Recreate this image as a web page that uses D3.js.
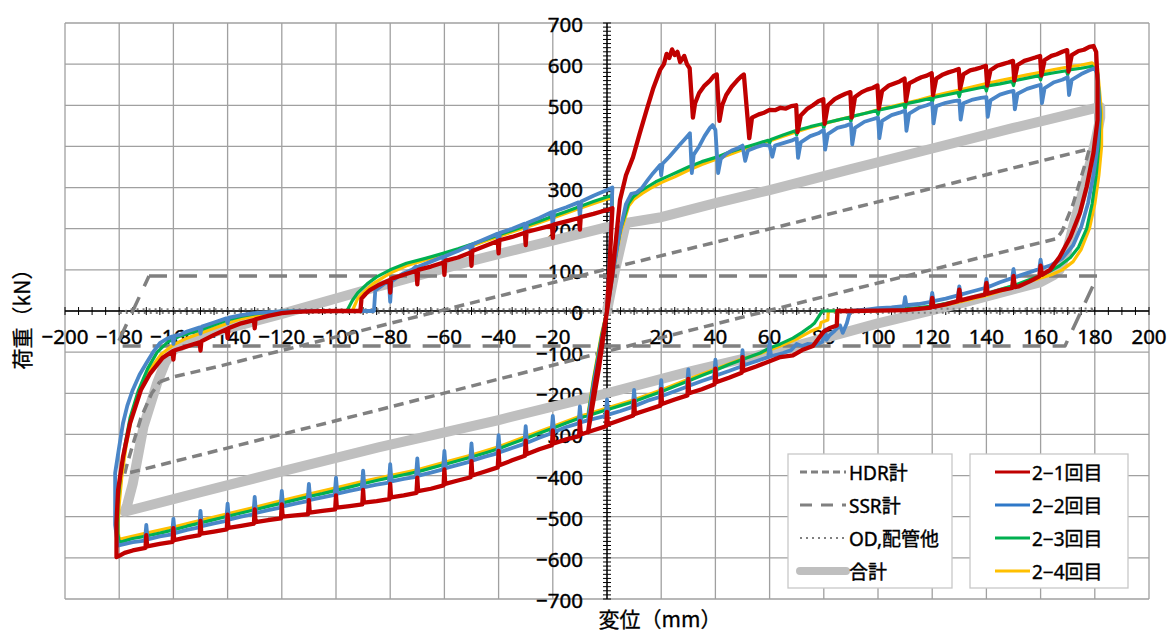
<!DOCTYPE html>
<html>
<head>
<meta charset="utf-8">
<script src="https://cdn.jsdelivr.net/npm/d3@7/dist/d3.min.js"></script>
<style>
  html, body { margin: 0; padding: 0; background: #fff; }
  svg { display: block; }
  .tick-label { font-family: "Noto Sans", "Noto Sans CJK JP", sans-serif; font-size: 20.5px; fill: #000; stroke: #000; stroke-width: 0.45px; }
  .title { font-family: "Noto Sans CJK JP", sans-serif; font-size: 21px; fill: #000; stroke: #000; stroke-width: 0.3px; }
  .legend-text { font-family: "Noto Sans", "Noto Sans CJK JP", sans-serif; font-size: 19px; fill: #000; stroke: #000; stroke-width: 0.4px; }
</style>
</head>
<body>
<script>
// axis ticks
const xTicks = d3.range(-200, 201, 20);
const yTicks = d3.range(-700, 701, 100);

// calculated loops
const hdr = [[-165,-172],[-160,-160],[-143,-134],[0,102],[64,206],[178,394],[177,370],[172,260],[168,195],[166,176],
  [100,68],[0,-98],[-84,-240],[-178,-396],[-177,-370],[-172,-260],[-168,-200],[-165,-172]];
const ssr = [[-169,85],[181,85],[169,-85],[-181,-85],[-169,85]];
const od = [[-180,-5],[-176,4],[0,4],[180,6],[176,-4],[0,-4],[-180,-5]];
const total = [[0,0],[3,100],[7,214],[20,228],[40,262],[60,294],[90,345],[120,395],[150,445],[182,496],
  [182,470],[180.5,420],[179,380],[176,300],[172,205],[169.5,140],[167,100],[165,88],[160,70],[130,18],[100,-30],
  [64,-95],[30,-148],[0,-200],[-40,-265],[-84,-331],[-120,-390],[-150,-440],[-178,-488],[-177,-470],[-175,-420],
  [-171,-280],[-166,-175],[-163,-125],[-160,-95],[-150,-60],[-119,-5],[-89,51],[-50,122],[0,204]];

// measured loops
const run1 = [[0,0],[2,90],[4.8,270],[7,330],[9.6,374],[12,430],[14.6,488],[17,540],[19.6,586],[21,600],[22,625],[23,615],
  [24,636],[25,622],[26,630],[27,605],[28.5,620],[29.5,600],[30.5,590],[31.7,470],[32.5,505],[34,530],[36,548],[38,560],
  [39.5,572],[40.5,575],[41.5,462],[42.5,500],[44,525],[46,545],[48,560],[49.5,570],[50.5,575],[52.5,420],[53.5,470],
  [56,478],[58,482],[60,489],[62,488],[64,494],[66,492],[68,498],[69.8,500],[70.3,435],[71.5,475],[74,492],[76,500],
  [78,510],[79.8,515],[80.3,455],[81.5,500],[84,515],[86,522],[88,528],[89.8,532],[90.3,470],[91.5,520],[94,532],
  [96,538],[98,542],[99.8,548],[100.3,492],[101.5,535],[104,548],[106,553],[108,558],[109.8,565],[110.3,510],[111.5,553],
  [114,562],[116,568],[118,572],[119.8,578],[120.3,525],[121.5,565],[124,575],[126,580],[128,584],[129.8,588],[130.3,540],
  [131.5,575],[134,585],[136,588],[138,592],[139.8,596],[140.3,548],[141.5,585],[144,596],[146,600],[148,604],[149.8,608],
  [150.3,560],[151.5,598],[154,608],[156,612],[158,616],[159.8,620],[160.3,572],[161.5,610],[164,620],[166,624],[168,630],
  [169.8,634],[170.3,582],[171.5,622],[174,632],[176,635],[178,642],[179.5,644],[180.5,630],
  [181,560],[181,464],[179.5,384],[177,302],[174.5,238],[171,180],[167,131],[163.5,100],[160.5,88],[160,110],[159.5,84],
  [156,72],[152,60],[150.5,58],[150,85],[149.5,56],[145,50],[140.5,42],[140,68],[139.5,40],[135,33],[130.5,26],[130,52],
  [129.5,24],[125,16],[120.5,10],[120,32],[119.5,8],[115,5],[110,2],[100,1],[90,0],[85,0],[84.8,-35],[82,-42],[80,-50],
  [78.6,-62],[76,-85],[72,-95],[68.6,-108],[64,-112],[60,-122],
  [55,-135],[50.3,-146],[50,-112],[49.7,-150],[45,-162],[40.3,-173],[40,-140],[39.7,-178],[35,-190],[30.3,-200],[30,-165],
  [29.7,-205],[25,-215],[20.3,-226],[20,-190],[19.7,-230],[15,-240],[10.3,-250],[10,-218],[9.7,-254],[5,-265],[0.3,-276],
  [0,-245],[-0.3,-280],[-5,-290],[-9.7,-300],[-10,-268],[-10.3,-304],[-15,-312],[-19.7,-322],[-20,-290],[-20.3,-326],
  [-25,-336],[-29.7,-348],[-30,-315],[-30.3,-352],[-35,-363],[-39.7,-375],[-40,-340],[-40.3,-380],[-45,-390],[-49.7,-400],
  [-50,-365],[-50.3,-404],[-55,-412],[-59.7,-420],[-60,-385],[-60.3,-424],[-65,-432],[-69.7,-438],[-70,-405],[-70.3,-442],
  [-75,-448],[-79.7,-453],[-80,-420],[-80.3,-457],[-85,-462],[-89.7,-466],[-90,-435],[-90.3,-470],[-95,-474],[-99.7,-478],
  [-100,-448],[-100.3,-482],[-105,-486],[-109.7,-490],[-110,-460],[-110.3,-494],[-115,-497],[-119.7,-500],[-120,-470],
  [-120.3,-504],[-125,-508],[-129.7,-513],[-130,-482],[-130.3,-517],[-135,-522],[-139.7,-527],[-140,-495],[-140.3,-531],
  [-145,-536],[-149.7,-541],[-150,-510],[-150.3,-545],[-155,-550],[-159.7,-557],[-160,-528],[-160.3,-561],[-165,-566],
  [-169.7,-572],[-170,-545],[-170.3,-576],[-175,-582],[-178,-588],[-180,-595],[-181,-598],
  [-181,-560],[-181,-515],[-180.4,-435],[-178.6,-355],[-176,-273],[-172,-192],[-168.6,-152],[-164,-114],[-160.3,-98],
  [-160,-118],[-159.7,-96],[-155,-86],[-150.3,-76],[-150,-96],[-149.7,-74],[-145,-58],[-140.3,-44],[-140,-66],[-139.7,-42],
  [-135,-30],[-130.3,-22],[-130,-42],[-129.7,-20],[-125,-12],[-120,-5],[-115,-2],[-110,-1],[-100,0],[-91,0],
  [-90.6,30],[-89,42],[-87.5,51],[-84,64],[-80.3,75],[-80,45],[-79.7,78],[-75,88],[-70.3,98],[-70,65],[-69.7,100],
  [-65,108],[-60.3,118],[-60,88],[-59.7,122],[-55,130],[-50.3,142],[-50,110],[-49.7,146],[-45,158],[-40.3,170],[-40,140],
  [-39.7,172],[-35,180],[-30.3,190],[-30,160],[-29.7,192],[-25,200],[-20.3,208],[-20,178],[-19.7,210],[-15,218],
  [-10.3,226],[-10,198],[-9.7,228],[-5,236],[-2,242],[0,245],
  [2,250],[1,120],[0,0],[-3,-140],[-7,-295],[-5,-200],[-2,-80],[0,0]];

const run2 = [[0,0],[2,85],[4.5,185],[7,260],[9,285],[11,288],[13,300],[15,318],[17,335],[19.6,355],[20,330],[20.5,358],
  [23,375],[25,390],[27,405],[29,420],[30.6,432],[31.3,335],[32,380],[34,400],[36,425],[38,445],[39,452],[40,440],[41,335],
  [42,370],[44,382],[46,390],[48,395],[50,402],[51,365],[52,390],[55,398],[58,404],[60,402],[61,375],[62,402],[65,408],
  [68,414],[70,420],[70.5,372],[71.5,410],[75,425],[78,432],[80,440],[80.5,392],[81.5,430],[85,445],[88,450],[90,455],
  [90.5,405],[91.5,445],[95,460],[98,466],[100,470],[100.5,420],[101.5,462],[105,476],[108,482],[110,487],[110.5,438],
  [111.5,480],[115,494],[118,500],[120,505],[120.5,456],[121.5,498],[125,506],[128,510],[130,512],[130.5,465],[131.5,505],
  [135,514],[138,518],[140,520],[140.5,472],[141.5,512],[145,526],[148,532],[150,535],[150.5,490],[151.5,528],[155,540],
  [158,546],[160,550],[160.5,505],[161.5,542],[165,556],[168,562],[170,568],[170.5,525],[171.5,562],[175,576],[178,585],
  [180,590],
  [181,575],[181.8,480],[181,400],[179.5,330],[177.5,262],[175,205],[172,160],[168,128],[164,112],[160.5,104],[160,125],
  [159.5,102],[155,92],[150.5,82],[150,102],[149.5,80],[145,70],[140.5,58],[140,78],[139.5,56],[135,48],[130.5,40],
  [130,60],[129.5,38],[125,30],[120.5,24],[120,44],[119.5,22],[115,17],[110.5,14],[110,34],[109.5,12],[105,9],[100,7],
  [95,3],[90,0],[89.5,-5],[88.5,-30],[87,-53],[86,-35],[84,-48],[82,-60],[81,-70],[80.5,-45],[79.5,-75],[77,-82],[74,-80],
  [72,-85],[70,-80],[68,-95],
  [65,-102],[60.5,-110],[60,-75],[59.5,-112],[55,-122],[50.5,-132],[50,-95],[49.5,-135],[45,-146],[40.5,-156],[40,-118],
  [39.5,-160],[35,-170],[30.5,-181],[30,-142],[29.5,-184],[25,-195],[20.5,-206],[20,-168],[19.5,-209],[15,-218],
  [10.5,-230],[10,-192],[9.5,-233],[5,-243],[0.5,-252],[0,-215],[-0.5,-255],[-5,-262],[-9.5,-270],[-10,-232],[-10.5,-273],
  [-15,-282],[-19.5,-294],[-20,-255],[-20.5,-297],[-25,-308],[-29.5,-320],[-30,-280],[-30.5,-323],[-35,-333],[-39.5,-343],
  [-40,-302],[-40.5,-346],[-45,-354],[-49.5,-363],[-50,-322],[-50.5,-366],[-55,-374],[-59.5,-382],[-60,-340],[-60.5,-385],
  [-65,-393],[-69.5,-400],[-70,-358],[-70.5,-403],[-75,-408],[-79.5,-414],[-80,-372],[-80.5,-417],[-85,-422],[-89.5,-428],
  [-90,-388],[-90.5,-431],[-95,-437],[-99.5,-444],[-100,-405],[-100.5,-447],[-105,-453],[-109.5,-459],[-110,-420],
  [-110.5,-462],[-115,-468],[-119.5,-475],[-120,-437],[-120.5,-478],[-125,-484],[-129.5,-491],[-130,-452],[-130.5,-494],
  [-135,-500],[-139.5,-507],[-140,-468],[-140.5,-510],[-145,-516],[-149.5,-523],[-150,-486],[-150.5,-526],[-155,-532],
  [-159.5,-540],[-160,-505],[-160.5,-543],[-165,-548],[-169.5,-555],[-170,-520],[-170.5,-558],[-175,-562],[-179,-568],
  [-180.5,-570],
  [-181.5,-520],[-181.5,-394],[-180,-330],[-178.6,-273],[-177,-230],[-175,-192],[-172.5,-155],[-170,-127],[-167.5,-100],
  [-165,-78],[-162,-66],[-160.5,-62],[-160,-80],[-159.5,-60],[-157.6,-58],[-155,-50],[-150.5,-40],[-150,-55],[-149.5,-38],
  [-145,-28],[-140.5,-18],[-140,-30],[-139.5,-16],[-135,-10],[-130,-5],[-125,-3],[-120,-1],[-110,0],[-86,0],
  [-85.5,50],[-83,62],[-80.5,74],[-80,22],[-79.5,72],[-77,84],[-75,92],[-72,100],[-70.5,108],[-70,72],[-69.5,108],
  [-65,120],[-60.5,132],[-60,98],[-59.5,134],[-55,146],[-50.5,160],[-50,125],[-49.5,162],[-45,175],[-40.5,188],[-40,150],
  [-39.5,190],[-35,200],[-30.5,212],[-30,175],[-29.5,214],[-25,226],[-20.5,240],[-20,205],[-19.5,242],[-15,252],
  [-10.5,264],[-10,228],[-9.5,266],[-5,280],[0,294],
  [2,300],[1,130],[0,0],[-3,-120],[-7,-265],[-5,-180],[-2,-70],[0,0]];

const run3 = [[0,0],[2,90],[5,200],[8,262],[9.6,277],[12,290],[15,302],[18,314],[22,326],[26,338],[30,350],[35,363],
  [40.5,374],[45,386],[50,396],[55,406],[59.5,415],[60,408],[60.5,417],[65,428],[69.5,438],[70,428],[70.5,440],[75,448],
  [79.5,455],[80,445],[80.5,457],[85,464],[89.5,471],[90,461],[90.5,473],[95,480],[99.5,487],[100,477],[100.5,489],
  [105,495],[109.5,502],[110,492],[110.5,504],[115,510],[119.5,517],[120,507],[120.5,519],[125,525],[129.5,531],[130,521],
  [130.5,533],[135,539],[139.5,545],[140,535],[140.5,547],[145,552],[149.5,558],[150,548],[150.5,560],[155,566],
  [159.5,572],[160,562],[160.5,574],[165,579],[169.5,584],[170,574],[170.5,586],[175,590],[179,595],
  [181,580],[182,480],[181.5,400],[180.5,330],[179,260],[177,200],[174,155],[171,130],[167,110],[163,95],[160,86],
  [155,74],[150,62],[145,52],[140,42],[135,33],[130,25],[125,18],[120,12],[115,8],[110,5],[100,2],[90,1],[79.4,0],
  [78,-15],[76.5,-30],[75,-38],[72,-52],[68.6,-66],[64,-80],[60,-90],[56.5,-102],
  [50,-118],[45,-130],[40,-144],[35,-157],[30,-170],[25,-183],[20,-196],[15,-208],[10,-220],[5,-230],[0,-240],[-5,-250],
  [-10,-260],[-15,-272],[-20,-285],[-25,-297],[-30,-310],[-35,-322],[-40,-335],[-45,-345],[-50,-355],[-55,-364],[-60,-373],
  [-65,-382],[-70,-391],[-75,-398],[-80,-405],[-85,-412],[-90,-420],[-95,-428],[-100,-436],[-105,-444],[-110,-451],
  [-115,-459],[-120,-467],[-125,-475],[-130,-483],[-135,-491],[-140,-499],[-145,-507],[-150,-515],[-155,-523],[-160,-532],
  [-165,-540],[-170,-547],[-175,-553],[-178.6,-560],[-180,-562],
  [-180.5,-540],[-180.5,-470],[-179.5,-400],[-178,-330],[-176,-260],[-173,-195],[-169.5,-140],[-166,-100],[-162,-75],
  [-158,-62],[-150,-46],[-145,-34],[-140,-22],[-135,-13],[-130,-7],[-125,-3],[-120,-1],[-115,0],[-96,0],
  [-94,25],[-92,44],[-88.5,66],[-85,83],[-80,100],[-74,116],[-67,128],[-60.5,140],[-55,151],[-50,162],[-45,173],[-40,185],
  [-35,196],[-30,207],[-25,218],[-20,230],[-15,242],[-10,254],[-5,266],[0,277],
  [2,282],[1,120],[0,0],[-3,-110],[-7,-255],[-5,-170],[-2,-60],[0,0]];

const run4 = [[0,0],[2,85],[5,190],[8,255],[10,272],[13,286],[16,298],[20,312],[25,326],[30,342],[35,356],[40,368],
  [45,380],[50,392],[55,403],[60,413],[65,425],[70,436],[75,446],[80,455],[85,464],[90,472],[95,480],[100,489],[105,497],
  [110,505],[115,513],[120,522],[125,530],[130,537],[135,545],[140,553],[145,560],[150,567],[155,574],[160,580],[165,587],
  [170,593],[175,598],[179,603],
  [181,590],[182.5,480],[182.5,400],[181.5,330],[180,260],[178,200],[175,150],[172,120],[168,100],[164,88],[160,80],
  [155,70],[150,58],[145,48],[140,38],[135,30],[130,22],[125,15],[120,10],[115,6],[110,3],[100,1],[90,0],[82,0],
  [81.6,-5],[81.5,-22],[79,-28],[78.6,-40],[75,-50],[70,-68],[65,-82],[60,-95],[55,-107],
  [50,-116],[40,-141],[30,-166],[20,-192],[10,-216],[0,-236],[-10,-256],[-20,-281],[-30,-305],[-40,-330],[-50,-350],
  [-60,-368],[-70,-386],[-80,-400],[-90,-414],[-100,-430],[-110,-445],[-120,-461],[-130,-477],[-140,-493],[-150,-509],
  [-160,-525],[-170,-540],[-178,-552],[-180,-555],
  [-180.5,-530],[-180,-470],[-179,-400],[-177.5,-330],[-175.5,-260],[-172.5,-195],[-168.5,-140],[-164.5,-105],[-160,-82],
  [-155,-66],[-150,-54],[-145,-42],[-140,-30],[-135,-19],[-130,-12],[-125,-6],[-120,-3],[-110,0],[-94,0],
  [-92,30],[-90,44],[-86,68],[-80,92],[-74,110],[-67,124],[-60,137],[-50,158],[-40,181],[-30,203],[-20,226],[-10,250],
  [0,272],
  [2,278],[1,115],[0,0],[-3,-105],[-7,-250],[-5,-165],[-2,-55],[0,0]];

const calcNames = ["HDR計", "SSR計", "OD,配管他", "合計"];
const runNames = ["2\u22121回目", "2\u22122回目", "2\u22123回目", "2\u22124回目"];

const W = 1170, H = 633;
const plot = { left: 65, top: 23, right: 1149, bottom: 599 };

const svg = d3.select('body').append('svg')
  .attr('width', W)
  .attr('height', H)
  .style('background', '#fff');

const x = d3.scaleLinear().domain([-200, 200]).range([plot.left, plot.right]);
const y = d3.scaleLinear().domain([-700, 700]).range([plot.bottom, plot.top]);

// Grid
svg.append('g')
  .selectAll('line')
  .data(xTicks)
  .join('line')
  .attr('x1', d => x(d)).attr('x2', d => x(d))
  .attr('y1', plot.top).attr('y2', plot.bottom)
  .attr('stroke', '#a0a0a0').attr('stroke-width', 1.3);

svg.append('g')
  .selectAll('line')
  .data(yTicks)
  .join('line')
  .attr('x1', plot.left).attr('x2', plot.right)
  .attr('y1', d => y(d)).attr('y2', d => y(d))
  .attr('stroke', '#a0a0a0').attr('stroke-width', 1.3);

// Axes through origin
const axisG = svg.append('g');
axisG.append('line')
  .attr('x1', plot.left).attr('x2', plot.right)
  .attr('y1', y(0)).attr('y2', y(0))
  .attr('stroke', '#000').attr('stroke-width', 1.4);
axisG.append('line')
  .attr('x1', x(0)).attr('x2', x(0))
  .attr('y1', plot.top).attr('y2', plot.bottom)
  .attr('stroke', '#000').attr('stroke-width', 1.4);

axisG.selectAll('.xminor')
  .data(d3.range(-200, 201, 5))
  .join('line')
  .attr('x1', d => x(d)).attr('x2', d => x(d))
  .attr('y1', y(0) - 4).attr('y2', y(0) + 4)
  .attr('stroke', '#000').attr('stroke-width', 1);
axisG.selectAll('.yminor')
  .data(d3.range(-700, 701, 10))
  .join('line')
  .attr('x1', x(0) - 4).attr('x2', x(0) + 4)
  .attr('y1', d => y(d)).attr('y2', d => y(d))
  .attr('stroke', '#000').attr('stroke-width', 1);

const fmt = v => (v < 0 ? '\u2212' + Math.abs(v) : String(v));

axisG.selectAll('.xlab')
  .data(xTicks.filter(d => d !== 0))
  .join('text')
  .attr('class', 'tick-label')
  .attr('x', d => x(d))
  .attr('y', y(0) + 25)
  .attr('text-anchor', 'middle')
  .attr('dominant-baseline', 'central')
  .text(fmt);

axisG.selectAll('.ylab')
  .data(yTicks)
  .join('text')
  .attr('class', 'tick-label')
  .attr('x', x(0) - 24)
  .attr('y', d => y(d) + 1)
  .attr('text-anchor', 'end')
  .attr('dominant-baseline', 'central')
  .text(fmt);

// Axis titles
svg.append('text')
  .attr('class', 'title')
  .attr('transform', 'translate(21,314) rotate(-90)')
  .attr('text-anchor', 'middle')
  .attr('dominant-baseline', 'central')
  .text('荷重（kN）');

svg.append('text')
  .attr('class', 'title')
  .attr('x', 660)
  .attr('y', 618)
  .attr('text-anchor', 'middle')
  .attr('dominant-baseline', 'central')
  .text('変位（mm）');

// Series
const line = d3.line().x(d => x(d[0])).y(d => y(d[1]));
const calcStyles = [
  { data: hdr, stroke: '#808080', width: 3.5, dash: '10,6' },
  { data: ssr, stroke: '#808080', width: 3.5, dash: '18,12' },
  { data: od, stroke: '#808080', width: 2, dash: '2,4' },
  { data: total, stroke: '#bfbfbf', width: 10, dash: null }
];
const runStyles = [
  { data: run4, stroke: '#ffc000', width: 3.2 },
  { data: run3, stroke: '#00b050', width: 3.2 },
  { data: run2, stroke: '#4a86c8', width: 3.8 },
  { data: run1, stroke: '#c00000', width: 4.3 }
];

const seriesG = svg.append('g');
// total drawn first so the dashed lines sit on top of it
[calcStyles[3], calcStyles[0], calcStyles[1], calcStyles[2]].forEach(s => {
  seriesG.append('path')
    .datum(s.data)
    .attr('d', line)
    .attr('fill', 'none')
    .attr('stroke', s.stroke)
    .attr('stroke-width', s.width)
    .attr('stroke-dasharray', s.dash)
    .attr('stroke-linejoin', 'round')
    .attr('stroke-linecap', s.dash ? 'butt' : 'round');
});
runStyles.forEach(s => {
  seriesG.append('path')
    .datum(s.data)
    .attr('d', line)
    .attr('fill', 'none')
    .attr('stroke', s.stroke)
    .attr('stroke-width', s.width)
    .attr('stroke-linejoin', 'round');
});

// Legend boxes
const rowY = [472, 505, 538, 571];
const leg1 = svg.append('g');
leg1.append('rect')
  .attr('x', 788).attr('y', 454).attr('width', 164).attr('height', 134)
  .attr('fill', '#fff').attr('stroke', '#c8c8c8').attr('stroke-width', 1.3);
calcNames.forEach((name, i) => {
  const s = calcStyles[i];
  leg1.append('line')
    .attr('x1', 800).attr('x2', 846)
    .attr('y1', rowY[i]).attr('y2', rowY[i])
    .attr('stroke', s.stroke)
    .attr('stroke-width', i === 3 ? 8 : (i === 2 ? 2 : 3))
    .attr('stroke-dasharray', i === 0 ? '7,4' : (i === 1 ? '12,9' : (i === 2 ? '2,4' : null)))
    .attr('stroke-linecap', i === 3 ? 'round' : 'butt');
  leg1.append('text')
    .attr('class', 'legend-text')
    .attr('x', 849).attr('y', rowY[i] + 1)
    .attr('dominant-baseline', 'central')
    .text(name);
});

const leg2 = svg.append('g');
leg2.append('rect')
  .attr('x', 970).attr('y', 454).attr('width', 158).attr('height', 134)
  .attr('fill', '#fff').attr('stroke', '#c8c8c8').attr('stroke-width', 1.3);
const runColors = ['#c00000', '#2e78c8', '#00b050', '#ffc000'];
runNames.forEach((name, i) => {
  leg2.append('line')
    .attr('x1', 995).attr('x2', 1030)
    .attr('y1', rowY[i]).attr('y2', rowY[i])
    .attr('stroke', runColors[i])
    .attr('stroke-width', 3);
  leg2.append('text')
    .attr('class', 'legend-text')
    .attr('x', 1032).attr('y', rowY[i] + 1)
    .attr('dominant-baseline', 'central')
    .text(name);
});
</script>
</body>
</html>
